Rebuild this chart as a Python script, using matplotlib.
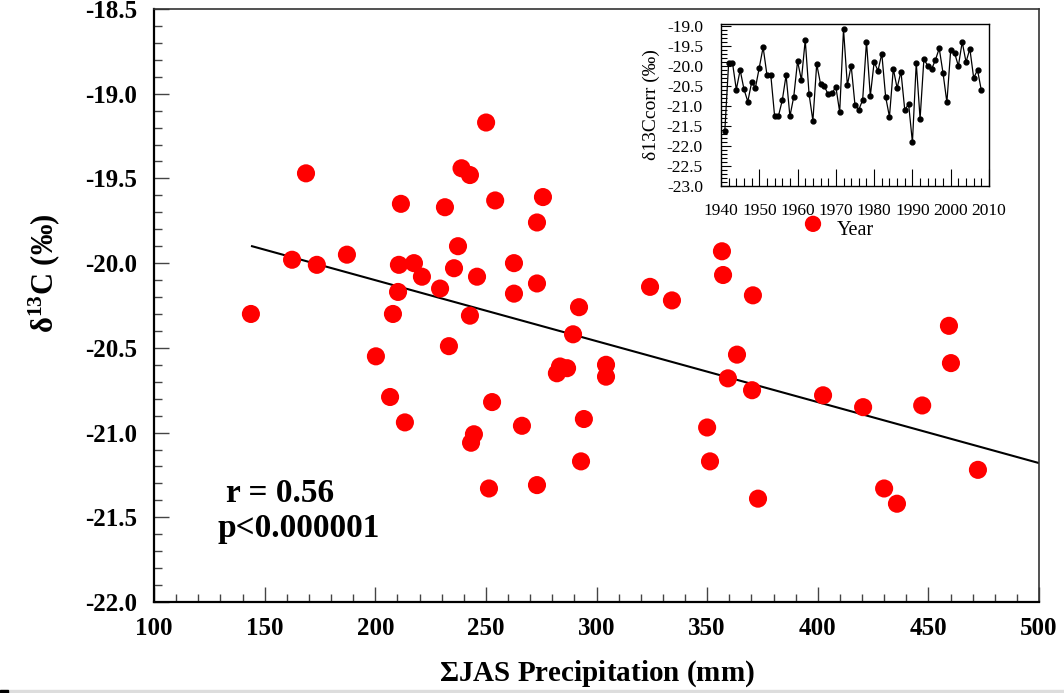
import numpy as np
import matplotlib
matplotlib.use('Agg')
import matplotlib.pyplot as plt
from matplotlib.ticker import MultipleLocator, FormatStrFormatter

plt.rcParams['font.family'] = ['Liberation Serif', 'DejaVu Serif']
plt.rcParams['mathtext.fontset'] = 'custom'
plt.rcParams['mathtext.rm'] = 'Liberation Serif'
plt.rcParams['mathtext.bf'] = 'Liberation Serif:bold'

# main scatter: summed Jul-Aug-Sep precipitation vs d13C
precip = [143.8, 162.4, 168.7, 173.6, 187.2, 200.3, 206.7, 208.0, 210.3, 210.7,
          211.6, 213.4, 217.5, 221.1, 229.3, 231.5, 233.3, 235.6, 237.4, 239.0,
          242.8, 242.8, 243.3, 244.6, 246.0, 250.1, 251.4, 252.8, 254.2, 262.7,
          262.7, 266.3, 273.1, 273.1, 273.1, 275.8, 282.1, 283.5, 286.7, 289.4,
          292.1, 293.0, 294.3, 304.3, 304.3, 324.2, 334.1, 350.0, 351.3, 356.7,
          357.2, 359.4, 363.5, 370.3, 370.7, 373.0, 402.4, 420.5, 430.0, 435.8,
          447.2, 459.3, 460.2, 472.4]
d13c = [-20.30, -19.98, -19.47, -20.01, -19.95, -20.55, -20.79, -20.30, -20.17, -20.01,
        -19.65, -20.94, -20.00, -20.08, -20.15, -19.67, -20.49, -20.03, -19.90, -19.44,
        -19.48, -20.31, -21.06, -21.01, -20.08, -19.17, -21.33, -20.82, -19.63, -20.00,
        -20.18, -20.96, -19.76, -20.12, -21.31, -19.61, -20.65, -20.61, -20.62, -20.42,
        -20.26, -21.17, -20.92, -20.60, -20.67, -20.14, -20.22, -20.97, -21.17, -19.93,
        -20.07, -20.68, -20.54, -20.75, -20.19, -21.39, -20.78, -20.85, -21.33, -21.42,
        -20.84, -20.37, -20.59, -21.22]

# regression line as drawn in the figure (end points)
fit_x = [144.3, 500.0]
fit_y = [-19.90, -21.18]

# inset: d13Ccorr time series
years = list(range(1941, 2009))
d13c_corr = [-21.62, -19.92, -19.92, -20.59, -20.10, -20.58, -20.89, -20.41, -20.54, -20.04,
             -19.53, -20.22, -20.22, -21.25, -21.25, -20.86, -20.23, -21.26, -20.77, -19.88,
             -20.35, -19.35, -20.70, -21.37, -19.95, -20.45, -20.51, -20.71, -20.68, -20.52,
             -21.15, -19.08, -20.48, -19.99, -20.98, -21.09, -20.85, -19.39, -20.75, -19.90,
             -20.12, -19.69, -20.77, -21.27, -20.07, -20.55, -20.14, -21.10, -20.95, -21.91,
             -19.92, -21.32, -19.82, -20.00, -20.08, -19.85, -19.56, -20.18, -20.91, -19.59,
             -19.67, -20.00, -19.40, -19.90, -19.57, -20.30, -20.10, -20.61]

fig = plt.figure(figsize=(10.64, 6.93), dpi=100)
ax = fig.add_axes([154 / 1064, 1 - 602 / 693, 885 / 1064, 593 / 693])

sc = ax.scatter(precip, d13c, s=170, color='#ff0000', edgecolors='none', zorder=3)
ax.plot(fit_x, fit_y, color='black', lw=1.5, zorder=2)

ax.set_xlim(100, 500)
ax.set_ylim(-22.0, -18.5)
ax.xaxis.set_major_locator(MultipleLocator(50))
ax.xaxis.set_minor_locator(MultipleLocator(10))
ax.yaxis.set_major_locator(MultipleLocator(0.5))
ax.yaxis.set_minor_locator(MultipleLocator(0.1))
ax.yaxis.set_major_formatter(FormatStrFormatter('%.1f'))
ax.tick_params(which='both', direction='in', top=False, right=False, color='#444444')
ax.tick_params(which='major', length=11, width=1, labelsize=18)
ax.tick_params(axis='x', which='major', pad=11)
ax.tick_params(axis='y', which='major', pad=12)
ax.tick_params(which='minor', length=5.5, width=1)
for lab in ax.get_xticklabels() + ax.get_yticklabels():
    lab.set_fontweight('bold')
for side in ['left', 'bottom']:
    ax.spines[side].set_linewidth(1.6)
for side in ['top', 'right']:
    ax.spines[side].set_linewidth(1.2)
    ax.spines[side].set_color('#333333')

ax.set_xlabel(r'$\mathbf{\Sigma}$JAS Precipitation (mm)', fontsize=21, fontweight='bold', labelpad=13)
ax.set_ylabel(r'$\mathbf{\delta^{13}}$C (‰)', fontsize=22, fontweight='bold')
ax.yaxis.set_label_coords(-0.104, 0.555)

ax.text(280 / 1064, 1 - 493 / 693, 'r = 0.56', transform=fig.transFigure, fontsize=24,
        fontweight='bold', ha='center', va='center')
ax.text(299 / 1064, 1 - 529 / 693, 'p<0.000001', transform=fig.transFigure, fontsize=24,
        fontweight='bold', ha='center', va='center')

# inset time series
axi = fig.add_axes([721 / 1064, 1 - 186 / 693, 268 / 1064, 162 / 693])
axi.plot(years, d13c_corr, color='black', lw=0.9, marker='o', ms=3.5)
axi.set_xlim(1940, 2010)
axi.set_ylim(-23.0, -18.95)
axi.xaxis.set_major_locator(MultipleLocator(10))
axi.xaxis.set_minor_locator(MultipleLocator(2))
axi.yaxis.set_major_locator(MultipleLocator(0.5))
axi.yaxis.set_minor_locator(MultipleLocator(0.1))
axi.yaxis.set_major_formatter(FormatStrFormatter('%.1f'))
axi.tick_params(which='both', direction='in', top=False, right=False)
axi.tick_params(which='major', labelsize=12.5, length=7, width=0.8)
axi.tick_params(which='minor', length=4, width=0.8)
axi.tick_params(axis='x', which='major', pad=12, length=12)
axi.tick_params(axis='y', which='major', pad=13)
axi.tick_params(axis='x', which='minor', length=6)
for sp in axi.spines.values():
    sp.set_linewidth(1.0)
axi.set_xlabel('Year', fontsize=14.5, labelpad=2)
axi.set_ylabel('δ13Ccorr (‰)', fontsize=14, labelpad=5)

# stray legend marker next to "Year"
fig.legend([sc], [''], loc='center', bbox_to_anchor=(813 / 1064, 1 - 224 / 693),
           frameon=False, handlelength=0.8, handletextpad=0, borderpad=0, markerscale=0.9)

# grey band at the bottom edge
fig.patches.append(plt.Rectangle((0, 0), 1, 3 / 693, transform=fig.transFigure,
                                 color='#dddddd', zorder=0))
fig.patches.append(plt.Rectangle((0, 0), 8 / 1064, 3 / 693, transform=fig.transFigure,
                                 color='black', zorder=0))

fig.savefig('out.png', dpi=100)
